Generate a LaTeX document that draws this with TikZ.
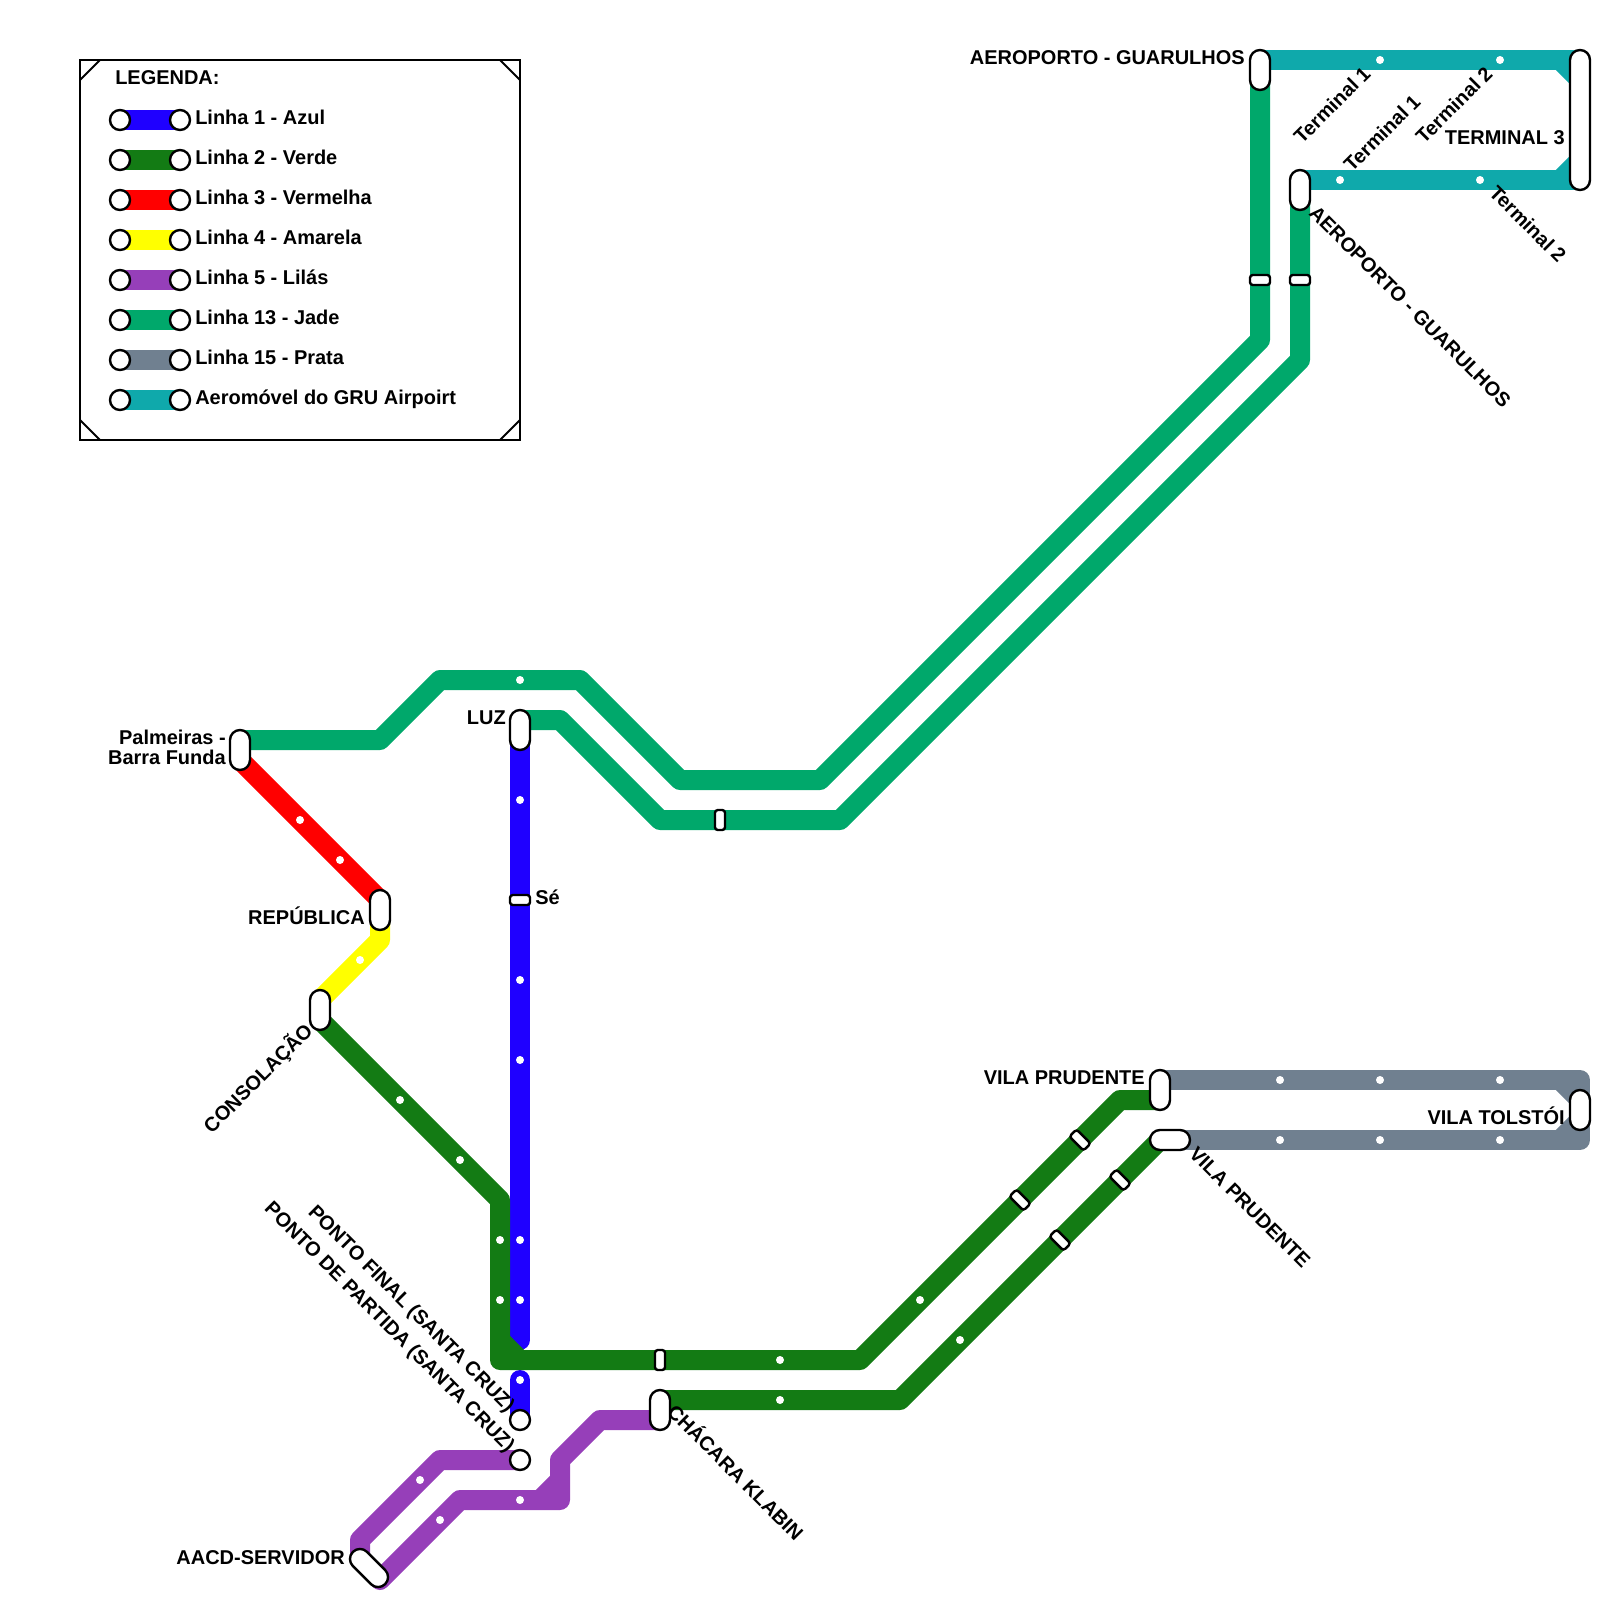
\documentclass[tikz,border=0pt]{standalone}
\usepackage{fontspec}
\setmainfont{Liberation Sans}
\usetikzlibrary{backgrounds}
\definecolor{azul}{HTML}{1F00FF}
\definecolor{verde}{HTML}{137B14}
\definecolor{vermelha}{HTML}{FF0000}
\definecolor{amarela}{HTML}{FFFF00}
\definecolor{lilas}{HTML}{963FB9}
\definecolor{jade}{HTML}{00A86B}
\definecolor{prata}{HTML}{708090}
\definecolor{aero}{HTML}{0FA9AB}
\newcommand{\lblfont}{\bfseries\fontsize{14.2}{14.2}\selectfont}
\begin{document}
\begin{tikzpicture}[x=0.025cm,y=-0.025cm,
  metro/.style={line width=.5cm,line join=round,line cap=round},
  pill/.style={draw=black,fill=white,line width=.06cm,rounded corners=.25cm,inner sep=0pt,outer sep=0pt,minimum width=.5cm,minimum height=#1},
  pill/.default=1cm,
  minipill/.style={draw=black,fill=white,line width=.06cm,rounded corners=.07cm,inner sep=0pt,outer sep=0pt,minimum width=.5cm,minimum height=.25cm},
  endstop/.style={circle,draw=black,fill=white,line width=.06cm,inner sep=0pt,outer sep=0pt,minimum size=.5cm},
  stopdot/.style={circle,fill=white,inner sep=0pt,minimum size=.2cm},
  lbl/.style={font=\lblfont,inner sep=0pt,anchor=base east},
  lblr/.style={font=\lblfont,inner sep=0pt,anchor=base west}]
\useasboundingbox (0,0) rectangle (1600,1600);
\node[pill] (aeroA) at (1260,70) {};
\node[pill] (aeroB) at (1300,190) {};
\node[pill=3.5cm] (terminal) at (1580,120) {};
\node[pill] (luz) at (520,730) {};
\node[pill] (barrafunda) at (240,750) {};
\node[pill] (republica) at (380,910) {};
\node[pill] (consolacao) at (320,1010) {};
\node[pill] (prudenteA) at (1160,1090) {};
\node[pill,rotate=90] (prudenteB) at (1170,1140) {};
\node[pill] (tolstoi) at (1580,1110) {};
\node[pill] (klabin) at (660,1410) {};
\node[pill=1.14cm,rotate=45] (aacd) at (369,1568) {};
\node[endstop] (pontofinal) at (520,1420) {};
\node[endstop] (pontopartida) at (520,1460) {};
\node[minipill] (se) at (520,900) {};
\node[minipill] (jadeA) at (1260,280) {};
\node[minipill] (jadeB) at (1300,280) {};
\node[minipill,rotate=90] (jadeC) at (720,820) {};
\node[minipill,rotate=90] (verdeA) at (660,1360) {};
\node[minipill,rotate=-45] (verdeB) at (1020,1200) {};
\node[minipill,rotate=-45] (verdeC) at (1080,1140) {};
\node[minipill,rotate=-45] (verdeD) at (1060,1240) {};
\node[minipill,rotate=-45] (verdeE) at (1120,1180) {};
\begin{pgfonlayer}{background}
\draw[metro,vermelha] (barrafunda.center) -- (240,760) -- (380,900) -- (republica.center);
\draw[metro,amarela] (republica.center) -- (380,940) -- (320,1000) -- (consolacao.center);
\draw[metro,jade] (barrafunda.center) -- (240,740) -- (380,740) -- (440,680) -- (580,680) -- (680,780) -- (820,780) -- (1260,340) -- (aeroA.center);
\draw[metro,jade] (luz.center) -- (520,720) -- (560,720) -- (660,820) -- (840,820) -- (1300,360) -- (aeroB.center);
\draw[metro,aero] (aeroA.center) -- (1260,60) -- (1580,60) -- (terminal.center) -- (1580,180) -- (1300,180) -- (aeroB.center);
\draw[line width=.5cm,aero] (1560,60) -- (1580,80) (1560,180) -- (1580,160);
\draw[metro,prata] (prudenteA.center) -- (1160,1080) -- (1580,1080) -- (tolstoi.center) -- (1580,1140) -- (prudenteB.center);
\draw[line width=.5cm,prata] (1560,1080) -- (1580,1100) (1560,1140) -- (1580,1120);
\draw[metro,azul] (luz.center) -- (520,1340);
\draw[metro,azul] (520,1380) -- (pontofinal.center);
\draw[metro,verde] (consolacao.center) -- (320,1020) -- (500,1200) -- (500,1360) -- (860,1360) -- (1120,1100) -- (1160,1100) -- (prudenteA.center);
\draw[line width=.5cm,verde] (500,1340) -- (520,1360);
\draw[metro,verde] (klabin.center) -- (660,1400) -- (900,1400) -- (1160,1140) -- (prudenteB.center);
\draw[metro,lilas] (pontopartida.center) -- (440,1460) -- (360,1540) -- (360,1560) -- (aacd.center);
\draw[metro,lilas] (aacd.center) -- (380,1580) -- (460,1500) -- (560,1500) -- (560,1460) -- (600,1420) -- (660,1420) -- (klabin.center);
\draw[line width=.5cm,lilas] (540,1500) -- (560,1480);
\end{pgfonlayer}
\foreach \x/\y [count=\n] in {520/680,520/800,520/980,520/1060,520/1240,520/1300,520/1380,500/1240,500/1300,300/820,340/860,360/960,400/1100,460/1160,780/1360,780/1400,920/1300,960/1340,1380/60,1500/60,1340/180,1480/180,1280/1080,1380/1080,1500/1080,1280/1140,1380/1140,1500/1140,420/1480,440/1520,520/1500}
  \node[stopdot] (dot\n) at (\x,\y) {};
\draw[line width=.07cm] (80,60) rectangle (520,440);
\draw[line width=.05cm] (100,60) -- (80,80) (500,60) -- (520,80) (80,420) -- (100,440) (500,440) -- (520,420);
\node[lblr] (legenda) at (115,84) {LEGENDA:};
\foreach \cor/\nome [count=\n] in {azul/Linha 1 - Azul,verde/Linha 2 - Verde,vermelha/Linha 3 - Vermelha,amarela/Linha 4 - Amarela,lilas/Linha 5 - Lilás,jade/Linha 13 - Jade,prata/Linha 15 - Prata,aero/Aeromóvel do GRU Airpoirt}{
  \node[endstop] (legA\n) at (120,80+40*\n) {};
  \node[endstop] (legB\n) at (180,80+40*\n) {};
  \begin{pgfonlayer}{background}
  \draw[line width=.5cm,\cor] (legA\n.center) -- (legB\n.center);
  \end{pgfonlayer}
  \node[lblr] (legT\n) at (195,84+40*\n) {\nome};
}
\node[lbl] (lblaeroA) at (1245,64) {AEROPORTO - GUARULHOS};
\node[lbl,rotate=45] (lbltermA) at (1372,75) {Terminal 1};
\node[lbl,rotate=45] (lbltermB) at (1494,75) {Terminal 2};
\node[lblr,rotate=45] (lbltermC) at (1352,173) {Terminal 1};
\node[lblr,rotate=-45] (lbltermD) at (1488,194) {Terminal 2};
\node[lbl] (lblterminal) at (1565,144) {TERMINAL 3};
\node[lblr,rotate=-45] (lblaeroB) at (1308,214) {AEROPORTO - GUARULHOS};
\node[lbl] (lblprudenteA) at (1145,1084) {VILA PRUDENTE};
\node[lblr,rotate=-45] (lblprudenteB) at (1188,1155) {VILA PRUDENTE};
\node[lbl] (lbltolstoi) at (1565,1124) {VILA TOLSTÓI};
\node[lblr,rotate=-45] (lblklabin) at (666,1413) {CHÁCARA KLABIN};
\node[lbl,rotate=-45] (lblfinal) at (507,1413) {PONTO FINAL (SANTA CRUZ)};
\node[lbl,rotate=-45] (lblpartida) at (507,1453) {PONTO DE PARTIDA (SANTA CRUZ)};
\node[lbl] (lblaacd) at (345,1564) {AACD-SERVIDOR};
\node[lbl,rotate=45] (lblconsolacao) at (314,1032) {CONSOLAÇÃO};
\node[lbl] (lblrepublica) at (365,924) {REPÚBLICA};
\node[lbl] (lblluz) at (506,724) {LUZ};
\node[lblr] (lblse) at (535,904) {Sé};
\node[lbl,align=right] (lblbarra) at (226,764) {Palmeiras -\\Barra Funda};
\end{tikzpicture}
\end{document}
